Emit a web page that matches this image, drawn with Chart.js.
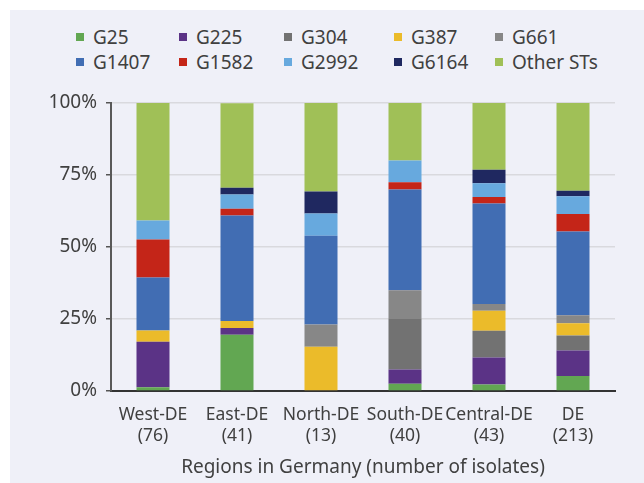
<!DOCTYPE html>
<html>
<head>
<meta charset="utf-8">
<script src="https://cdn.jsdelivr.net/npm/chart.js@4/dist/chart.umd.min.js"></script>
<style>
    body { margin: 0; background: #fff; font-family: "Noto Sans", sans-serif; }
    #wrap { position: relative; width: 644px; height: 483px; overflow: hidden; }
    #panel { position: absolute; left: 10px; top: 10px; right: 0; bottom: 0; background: #eff0f8; }
    #legend {
        position: absolute; left: 76px; top: 25px;
        display: grid; grid-template-columns: 103px 105px 110px 101px auto;
        row-gap: 0; color: #404040; font-size: 19px; line-height: 24.5px;
    }
    #legend .item { display: flex; align-items: center; white-space: nowrap; }
    #legend .box { width: 8px; height: 8px; margin-right: 9px; flex: none; }
    #chart { position: absolute; left: 0; top: 0; }
</style>
</head>
<body>
<div id="wrap">
    <div id="panel"></div>
    <div id="legend"></div>
    <canvas id="chart" width="644" height="483"></canvas>
</div>
<script>
// regions and number of isolates
const regions = [
    ['West-DE', '(76)'],
    ['East-DE', '(41)'],
    ['North-DE', '(13)'],
    ['South-DE', '(40)'],
    ['Central-DE', '(43)'],
    ['DE', '(213)']
];

// share of isolates per sequence type (%)
const g25      = [1.3, 19.5, 0, 2.5, 2.3, 5.2];
const g225     = [15.8, 2.4, 0, 5.0, 9.3, 8.9];
const g304     = [0, 0, 0, 17.5, 9.3, 5.2];
const g387     = [3.9, 2.4, 15.4, 0, 7.0, 4.2];
const g661     = [0, 0, 7.7, 10.0, 2.3, 2.8];
const g1407    = [18.4, 36.6, 30.8, 35.0, 34.9, 29.1];
const g1582    = [13.2, 2.4, 0, 2.5, 2.3, 6.1];
const g2992    = [6.6, 4.9, 7.7, 7.5, 4.7, 6.1];
const g6164    = [0, 2.4, 7.7, 0, 4.7, 1.9];
const otherSTs = [40.8, 29.3, 30.8, 20.0, 23.3, 30.5];

const yTicks = [0, 25, 50, 75, 100];

const series = [
    { label: 'G25',       data: g25,      color: '#62a752' },
    { label: 'G225',      data: g225,     color: '#5b3386' },
    { label: 'G304',      data: g304,     color: '#727272' },
    { label: 'G387',      data: g387,     color: '#ebbb2a' },
    { label: 'G661',      data: g661,     color: '#878787' },
    { label: 'G1407',     data: g1407,    color: '#416db3' },
    { label: 'G1582',     data: g1582,    color: '#c42518' },
    { label: 'G2992',     data: g2992,    color: '#67a9de' },
    { label: 'G6164',     data: g6164,    color: '#1f2860' },
    { label: 'Other STs', data: otherSTs, color: '#a0c057' }
];

const textColor = '#404040';
const font = { family: '"Noto Sans", sans-serif', size: 19 };
const xFont = { family: '"Noto Sans", sans-serif', size: 17.5 };

// html legend, 5 columns x 2 rows
const legendEl = document.getElementById('legend');
series.forEach(s => {
    const item = document.createElement('div');
    item.className = 'item';
    item.innerHTML = '<span class="box" style="background:' + s.color + '"></span>' + s.label;
    legendEl.appendChild(item);
});

const ctx = document.getElementById('chart');
new Chart(ctx, {
    type: 'bar',
    data: {
        labels: regions,
        datasets: series.map(s => ({
            label: s.label,
            data: s.data,
            backgroundColor: s.color,
            borderWidth: 0,
            categoryPercentage: 1,
            barPercentage: 0.393
        }))
    },
    options: {
        responsive: false,
        animation: false,
        layout: { padding: { top: 103, right: 29, left: 0, bottom: 0 } },
        plugins: {
            legend: { display: false },
            tooltip: { enabled: false }
        },
        scales: {
            x: {
                stacked: true,
                grid: { display: false, drawTicks: false },
                border: { color: '#333', width: 2 },
                ticks: { color: textColor, font: xFont, padding: 14, maxRotation: 0, autoSkip: false },
                title: {
                    display: true,
                    text: 'Regions in Germany (number of isolates)',
                    color: textColor,
                    font: font,
                    padding: { top: 4, bottom: 4 }
                },
                afterFit: s => { s.height = 92; }
            },
            y: {
                stacked: true,
                min: 0,
                max: 100,
                afterBuildTicks: s => { s.ticks = yTicks.map(v => ({ value: v })); },
                grid: { color: '#d9d9de', lineWidth: 1.5, tickColor: '#555', tickLength: 5 },
                border: { color: '#595959', width: 2 },
                ticks: {
                    color: textColor,
                    font: font,
                    padding: 9,
                    callback: v => v + '%'
                },
                afterFit: s => { s.width = 111; }
            }
        }
    }
});
</script>
</body>
</html>
